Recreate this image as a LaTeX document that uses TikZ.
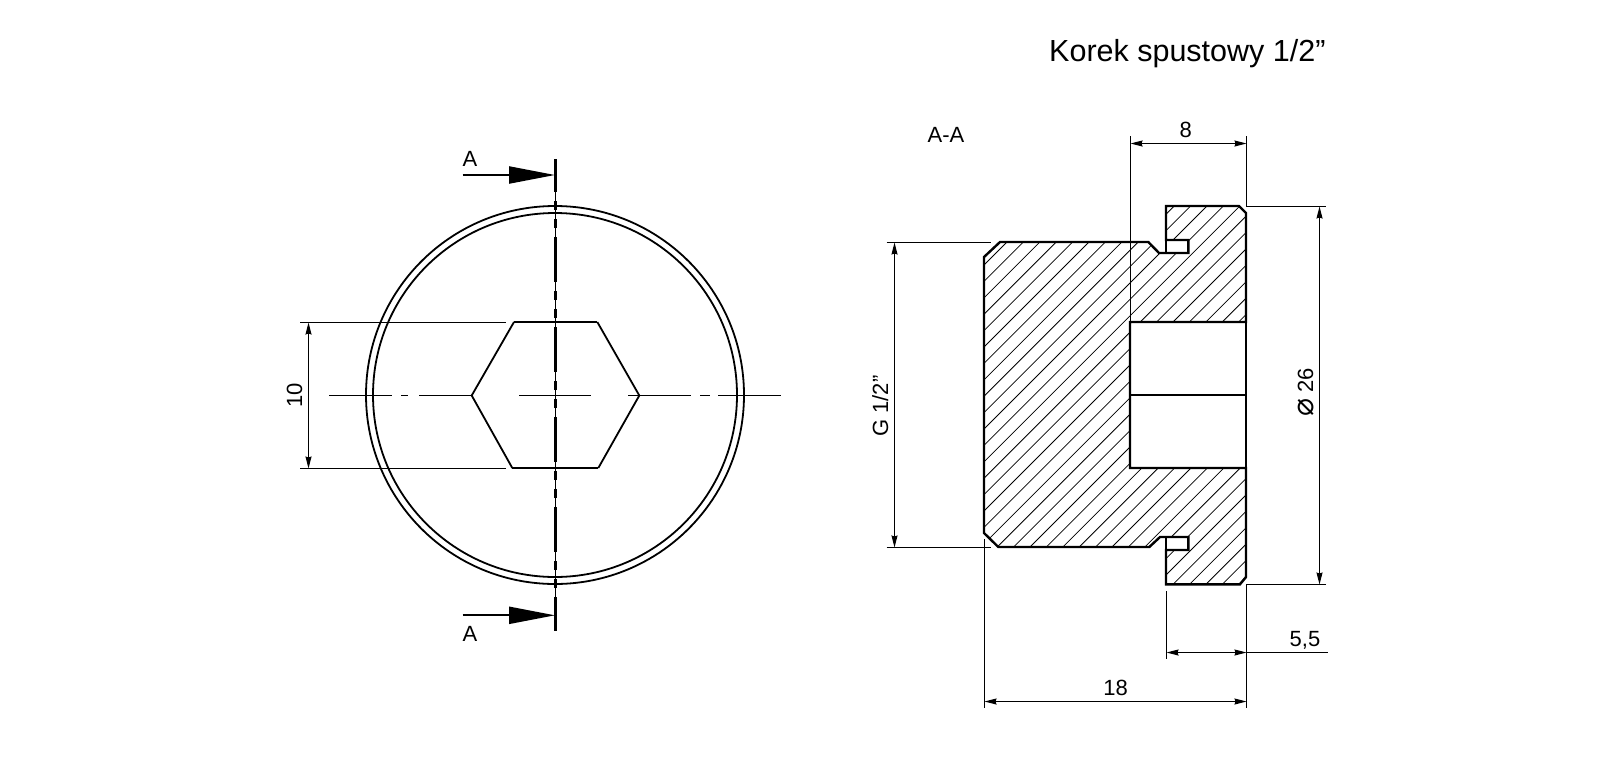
\documentclass[tikz,border=0pt]{standalone}
\usepackage{fontspec}
\setmainfont{Liberation Sans}
\newfontfamily\symbfont{DejaVu Sans}
\usetikzlibrary{arrows.meta}
\tikzset{outline/.style={line width=2.4pt, line join=miter},
         edgeline/.style={line width=1.8pt},
         thinline/.style={line width=1.1pt},
         hatchline/.style={line width=0.8pt},
         dimline/.style={line width=1.1pt, {Stealth[length=12pt,width=6pt,inset=1pt]}-{Stealth[length=12pt,width=6pt,inset=1pt]}},
         cutarrow/.style={line width=2.2pt, -{Triangle[length=46pt,width=17pt]}},
         axisline/.style={line width=3pt, dash pattern=on 45pt off 9pt on 9pt off 9pt on 9pt off 9pt, dash phase=12pt},
         smalltext/.style={inner sep=0pt, anchor=base, font=\fontsize{22}{24}\selectfont},
         titletext/.style={inner sep=0pt, anchor=base west, font=\fontsize{30.5}{32}\selectfont}}
\begin{document}
\begin{tikzpicture}[x=1pt, y=-1pt]
    \useasboundingbox (0,0) rectangle (1602,766);
    \node (title)[titletext] at (1049,61) {Korek spustowy 1/2”};
    \node (sectionname)[smalltext] at (946,142.7) {A-A};
    % front view
    \coordinate (centre) at (555,395);
    \draw [edgeline] (centre) circle [radius=189pt];
    \draw [edgeline] (centre) circle [radius=182pt];
    \draw [edgeline] (471.7,395.5) -- (514,322) (597.3,322) -- (639.3,395.5) -- (598.3,468) (512.3,468) -- (471.7,395.5);
    \draw [outline] (514,322) -- (597.3,322) (512.3,468) -- (598.3,468);
    \draw [thinline] (329,395.5) -- (391.7,395.5) (401,395.5) -- (407.7,395.5) (419,395.5) -- (471.7,395.5);
    \draw [thinline] (519,395.5) -- (591,395.5);
    \draw [thinline] (628,395.5) -- (691,395.5) (700,395.5) -- (710,395.5) (718,395.5) -- (780.7,395.5);
    % section line
    \coordinate (cuttop) at (555.5,159.3);
    \coordinate (cutbottom) at (555.5,630.7);
    \draw [thinline] (cuttop) -- (cutbottom);
    \draw [axisline] (cuttop) -- (cutbottom);
    \coordinate (topstart) at (462.7,175);
    \coordinate (topend) at (555,175);
    \coordinate (bottomstart) at (462.7,615.3);
    \coordinate (bottomend) at (555,615.3);
    \draw [cutarrow] (topstart) -- (topend);
    \draw [cutarrow] (bottomstart) -- (bottomend);
    \node (topname)[smalltext] at (470,166.7) {A};
    \node (bottomname)[smalltext] at (470,641.7) {A};
    % width across flats
    \draw [thinline] (300,322.5) -- (506,322.5) (300,468.5) -- (506,468.5);
    \coordinate (flattop) at (308.5,322.5);
    \coordinate (flatbottom) at (308.5,468.5);
    \draw [dimline] (flattop) -- (flatbottom);
    \node (flatlabel)[smalltext, rotate=90] at (302,395) {10};
    % section view
    \begin{scope}
        \clip (984,257) -- (1000,242) -- (1148.3,242) -- (1159,253) -- (1188.3,253) -- (1188.3,240) -- (1166,240) -- (1166,206) -- (1239,206) -- (1246,213) -- (1246,322) -- (1130,322) -- (1130,468) -- (1246,468) -- (1246,577) -- (1240,584.3) -- (1166,584.3) -- (1166,550) -- (1188.3,550) -- (1188.3,537) -- (1160,537) -- (1149.3,547) -- (998.3,547) -- (984,533) -- cycle;
        \foreach \n in {0,...,36}{
            \pgfmathsetmacro{\c}{1249+16.4*\n}
            \draw [hatchline] (\c-600,600) -- (\c-190,190);
        }
    \end{scope}
    \draw [outline] (984,257) -- (1000,242) -- (1148.3,242) -- (1159,253) -- (1188.3,253) -- (1188.3,240) -- (1166,240) -- (1166,206) -- (1239,206) -- (1246,213) -- (1246,322) -- (1130,322) -- (1130,468) -- (1246,468) -- (1246,577) -- (1240,584.3) -- (1166,584.3) -- (1166,550) -- (1188.3,550) -- (1188.3,537) -- (1160,537) -- (1149.3,547) -- (998.3,547) -- (984,533) -- cycle;
    \draw [outline] (1166,240) -- (1166,253) (1166,537) -- (1166,550);
    \draw [outline] (1246,322) -- (1246,468);
    \draw [outline] (1130,394.7) -- (1246,394.7);
    % dimensions of the section
    \draw [thinline] (1130.5,136) -- (1130.5,322) (1246.5,136) -- (1246.5,206.5) -- (1326,206.5);
    \draw [thinline] (1326,584.5) -- (1246.5,584.5) -- (1246.5,707.7);
    \draw [thinline] (886.7,242.5) -- (991,242.5) (886.7,547.5) -- (990.7,547.5);
    \draw [thinline] (984.5,539.3) -- (984.5,707.7) (1166.5,591) -- (1166.5,658.7);
    \coordinate (depthleft) at (1130.5,143.5);
    \coordinate (depthright) at (1246.5,143.5);
    \draw [dimline] (depthleft) -- (depthright);
    \node (depthlabel)[smalltext] at (1185.7,137.3) {8};
    \coordinate (diatop) at (1319.5,206.5);
    \coordinate (diabottom) at (1319.5,584.5);
    \draw [dimline] (diatop) -- (diabottom);
    \node (dialabel)[smalltext, rotate=90] at (1313,392.5) {{\symbfont\fontsize{30}{30}\selectfont ⌀} 26};
    \coordinate (threadtop) at (894.5,242.5);
    \coordinate (threadbottom) at (894.5,547.5);
    \draw [dimline] (threadtop) -- (threadbottom);
    \node (threadlabel)[smalltext, rotate=90] at (888,406) {G 1/2”};
    \coordinate (flangeleft) at (1166.5,652.5);
    \coordinate (flangeright) at (1246.5,652.5);
    \coordinate (flangeend) at (1327.7,652.5);
    \draw [dimline] (flangeleft) -- (flangeright);
    \draw [thinline] (flangeright) -- (flangeend);
    \node (flangelabel)[smalltext] at (1305,646.7) {5,5};
    \coordinate (lengthleft) at (984.5,701.5);
    \coordinate (lengthright) at (1246.5,701.5);
    \draw [dimline] (lengthleft) -- (lengthright);
    \node (lengthlabel)[smalltext] at (1115.7,695.7) {18};
\end{tikzpicture}
\end{document}
